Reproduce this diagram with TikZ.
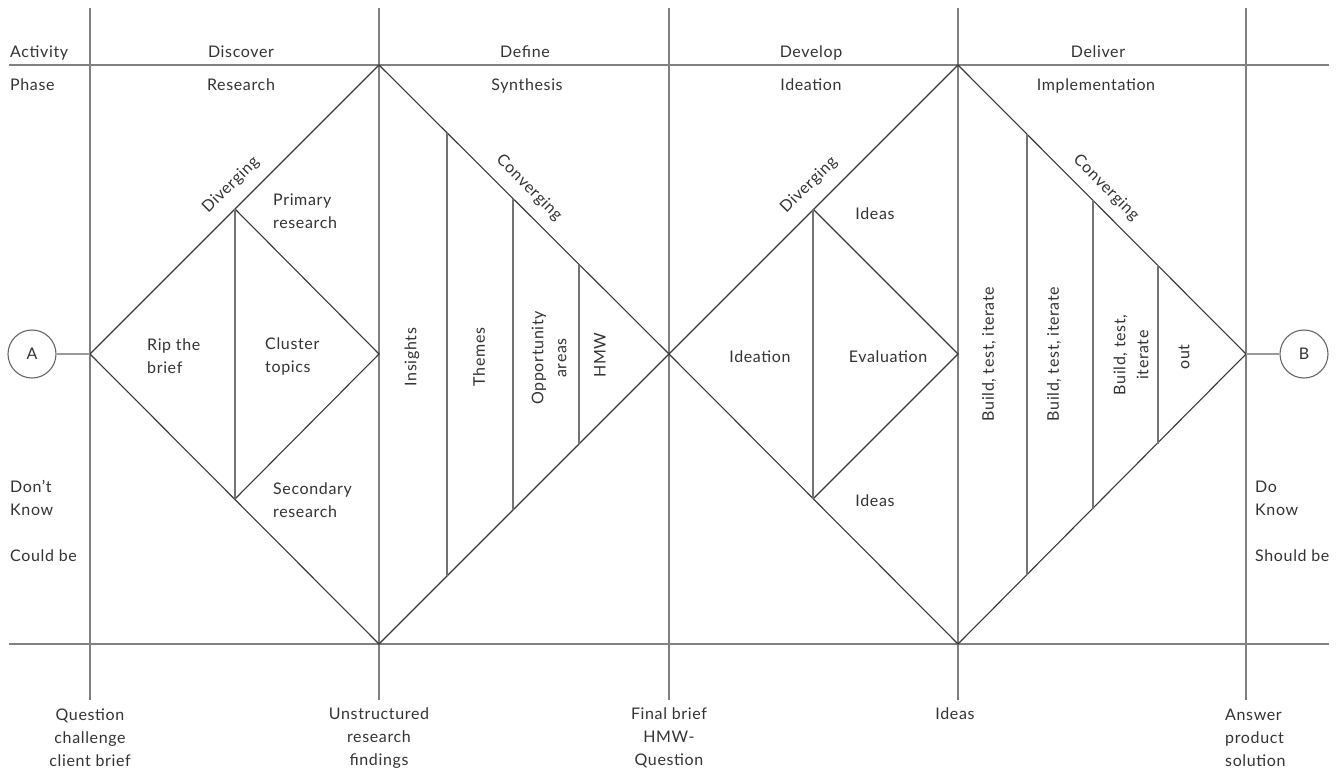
\documentclass[tikz,border=0pt]{standalone}
\usepackage{fontspec}
\setmainfont{Lato}[LetterSpace=4]
\begin{document}
\begin{tikzpicture}[x=1pt,y=-1pt,
  frame/.style={draw=black!50,line width=1.2pt},
  edge/.style={draw=black!78,line width=1.1pt},
  divider/.style={draw=black!55,line width=1.3pt},
  txt/.style={text=black!80,font=\fontsize{16}{23}\selectfont,inner sep=0pt},
  lft/.style={txt,anchor=west,align=left},
  mid/.style={txt,anchor=center,align=center},
  vert/.style={txt,anchor=center,align=center,rotate=90},
  endpoint/.style={circle,draw=black!60,line width=1.1pt,minimum size=48pt,inner sep=0pt,
    text=black!80,font=\fontsize{16}{18}\selectfont}]
\useasboundingbox (0,0) rectangle (1340,771);

% grid of phase boundaries
\foreach \n/\x in {0/90,1/379,2/669,3/958,4/1246}{
  \coordinate (vt\n) at (\x,8);
  \coordinate (vb\n) at (\x,700);
  \draw[frame] (vt\n) -- (vb\n);
}
\coordinate (hl1) at (9,65);   \coordinate (hr1) at (1329,65);
\coordinate (hl2) at (9,644);  \coordinate (hr2) at (1329,644);
\draw[frame] (hl1) -- (hr1);
\draw[frame] (hl2) -- (hr2);

% first diamond: discover / define
\coordinate (d1l) at (90,354);  \coordinate (d1t) at (379,65);
\coordinate (d1r) at (669,354); \coordinate (d1b) at (379,644);
\coordinate (d1c) at (379,354);
\coordinate (i1t) at (235,209); \coordinate (i1b) at (235,499);
\draw[edge] (d1l) -- (d1t) -- (d1r) -- (d1b) -- cycle;
\draw[edge] (i1t) -- (d1c) -- (i1b);
\draw[divider] (i1t) -- (i1b);
\foreach \k/\x/\a/\b in {1/447/133/576,2/513/199/510,3/579/265/444}{
  \coordinate (p1t\k) at (\x,\a);
  \coordinate (p1b\k) at (\x,\b);
  \draw[divider] (p1t\k) -- (p1b\k);
}

% second diamond: develop / deliver
\coordinate (d2t) at (958,65);
\coordinate (d2r) at (1246,354); \coordinate (d2b) at (958,644);
\coordinate (d2c) at (958,354);
\coordinate (i2t) at (813,209); \coordinate (i2b) at (813,499);
\draw[edge] (d1r) -- (d2t) -- (d2r) -- (d2b) -- cycle;
\draw[edge] (i2t) -- (d2c) -- (i2b);
\draw[divider] (i2t) -- (i2b);
\foreach \k/\x/\a/\b in {1/1027/134/575,2/1093/200/509,3/1158/265/444}{
  \coordinate (p2t\k) at (\x,\a);
  \coordinate (p2b\k) at (\x,\b);
  \draw[divider] (p2t\k) -- (p2b\k);
}

% start and end points
\node[endpoint] (A) at (32,354) {A};
\node[endpoint] (B) at (1304,354) {B};
\draw[frame,draw=black!40] (A) -- (d1l);
\draw[frame,draw=black!40] (d2r) -- (B);

% header rows
\node[txt,anchor=base west] (act) at (10,57) {Activity};
\node[txt,anchor=base west] (pha) at (10,90) {Phase};
\node[txt,anchor=base] (disc) at (241,57) {Discover};
\node[txt,anchor=base] (res) at (241,90) {Research};
\node[txt,anchor=base] (def) at (525,57) {Define};
\node[txt,anchor=base] (syn) at (527,90) {Synthesis};
\node[txt,anchor=base] (dev) at (811,57) {Develop};
\node[txt,anchor=base] (ide) at (811,90) {Ideation};
\node[txt,anchor=base] (del) at (1098,57) {Deliver};
\node[txt,anchor=base] (imp) at (1096,90) {Implementation};

% direction labels along the edges
\node[txt,rotate=45] (div1) at (231,185) {Diverging};
\node[txt,rotate=-45] (con1) at (529,188) {Converging};
\node[txt,rotate=45] (div2) at (809,185) {Diverging};
\node[txt,rotate=-45] (con2) at (1106,188) {Converging};

% first diamond contents
\node[lft] (prim) at (273,211) {Primary\\research};
\node[lft] (rip) at (147,356) {Rip the\\brief};
\node[lft] (clu) at (265,356) {Cluster\\topics};
\node[lft] (sec) at (273,500) {Secondary\\research};
\node[vert] (ins) at (412,357) {Insights};
\node[vert] (the) at (479,357) {Themes};
\node[vert] (opp) at (549,358) {Opportunity\\areas};
\node[vert] (hmw) at (600,355) {HMW};

% second diamond contents
\node[mid] (ideas1) at (875,214) {Ideas};
\node[mid] (ideat) at (760,357) {Ideation};
\node[mid] (eval) at (888,357) {Evaluation};
\node[mid] (ideas2) at (875,501) {Ideas};
\node[vert] (bti1) at (989,354) {Build, test, iterate};
\node[vert] (bti2) at (1054,354) {Build, test, iterate};
\node[vert] (bti3) at (1131,355) {Build, test,\\iterate};
\node[vert] (out) at (1184,357) {out};

% side notes
\node[lft] (dk) at (10,498) {Don't\\Know};
\node[txt,anchor=base west] (cb) at (10,561) {Could be};
\node[lft] (dok) at (1255,498) {Do\\Know};
\node[txt,anchor=base west] (sb) at (1255,561) {Should be};

% outcomes under the grid
\node[mid] (q) at (90,738) {Question\\challenge\\client brief};
\node[mid] (u) at (379,738) {Unstructured\\research\\findings};
\node[mid] (f) at (669,738) {Final brief\\HMW-\\Question};
\node[mid] (ideas3) at (955,714) {Ideas};
\node[lft] (ans) at (1225,738) {Answer\\product\\solution};
\end{tikzpicture}
\end{document}
